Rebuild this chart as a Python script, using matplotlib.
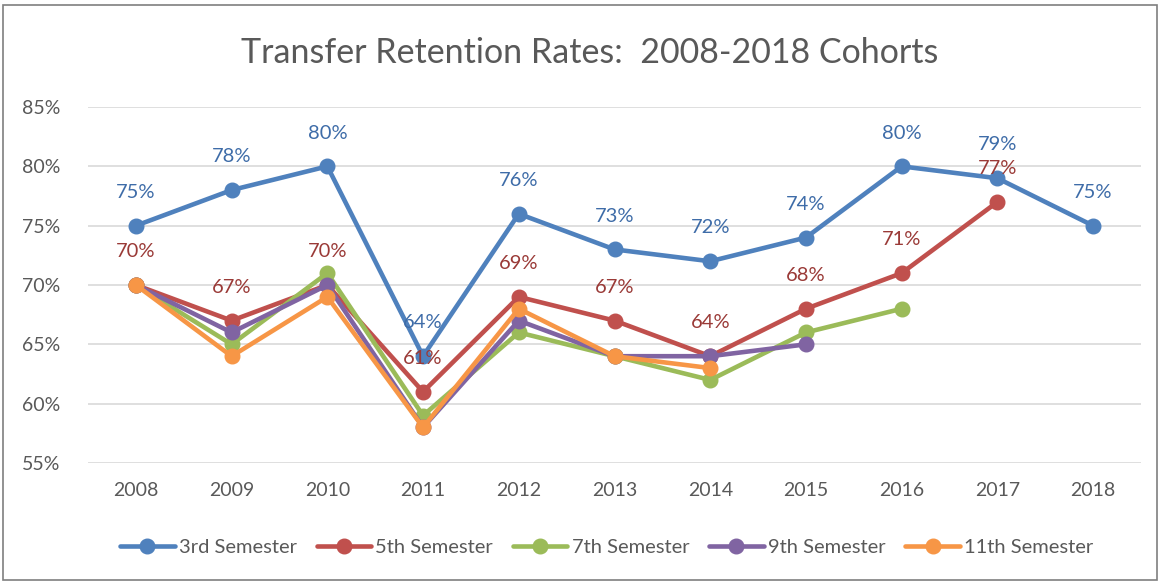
import matplotlib.pyplot as plt
from matplotlib.patches import Rectangle

years = ["2008", "2009", "2010", "2011", "2012", "2013", "2014", "2015", "2016", "2017", "2018"]
sem3 = [75, 78, 80, 64, 76, 73, 72, 74, 80, 79, 75]
sem5 = [70, 67, 70, 61, 69, 67, 64, 68, 71, 77]
sem7 = [70, 65, 71, 59, 66, 64, 62, 66, 68]
sem9 = [70, 66, 70, 58, 67, 64, 64, 65]
sem11 = [70, 64, 69, 58, 68, 64, 63]

series = [
    ("3rd Semester", sem3, "#4F81BD", "#3E6CA8"),
    ("5th Semester", sem5, "#C0504D", "#9A3A37"),
    ("7th Semester", sem7, "#9BBB59", None),
    ("9th Semester", sem9, "#8064A2", None),
    ("11th Semester", sem11, "#F79646", None),
]

plt.rcParams["font.family"] = ["Lato", "DejaVu Sans"]

fig = plt.figure(figsize=(11.6, 5.81), dpi=100)
ax = fig.add_axes([0.0759, 0.2031, 0.9077, 0.6127])

# series drawn in order, later ones on top (like the Excel original)
for name, vals, color, lab_color in series:
    x = list(range(len(vals)))
    ax.plot(x, vals, "-o", color=color, linewidth=3.3, markersize=10.5,
            label=name, solid_capstyle="round", zorder=3)

for name, vals, color, lab_color in series:
    if lab_color is None:
        continue
    for i, v in enumerate(vals):
        ax.annotate(f"{v}%", (i, v), xytext=(0, 24), textcoords="offset points",
                    ha="center", va="center", fontsize=14.5, color=lab_color, zorder=5)

ax.set_xlim(-0.5, 10.5)
ax.set_ylim(55, 85)
ax.set_xticks(range(len(years)))
ax.set_xticklabels(years)
ax.set_yticks(range(55, 86, 5))
ax.set_yticklabels([f"{t}%" for t in range(55, 86, 5)])
ax.tick_params(axis="both", length=0, labelsize=14, colors="#595959", pad=14)
ax.tick_params(axis="y", pad=20)
ax.grid(axis="y", color="#D9D9D9", linewidth=1.2)
ax.set_axisbelow(True)
for s in ax.spines.values():
    s.set_visible(False)

fig.text(0.508, 0.908, "Transfer Retention Rates:  2008-2018 Cohorts", ha="center", va="center",
         fontsize=24.5, color="#595959")

handles, labels = ax.get_legend_handles_labels()
fig.legend(handles, labels, loc="center", bbox_to_anchor=(0.523, 0.057), ncol=5,
           frameon=False, fontsize=14.5, labelcolor="#595959", handlelength=2.7,
           handletextpad=0.2, columnspacing=1.0)

fig.patches.append(Rectangle((0.003, 0.002), 0.994, 0.99, transform=fig.transFigure,
                             fill=False, edgecolor="#7F7F7F", linewidth=1.2))

fig.savefig("out.png", dpi=100)
